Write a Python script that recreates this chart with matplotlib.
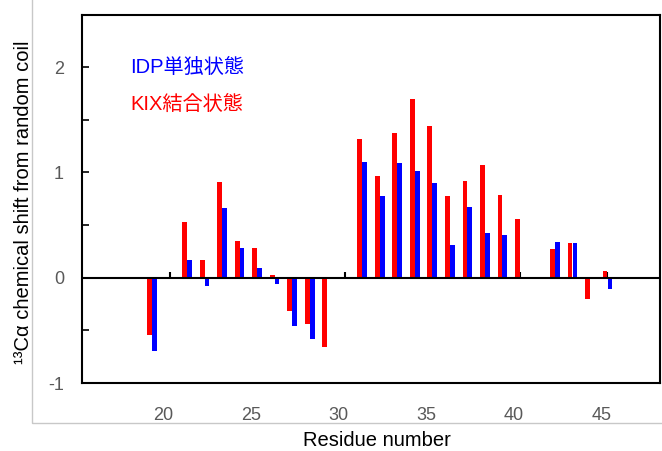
import numpy as np
import matplotlib
matplotlib.use("Agg")
import matplotlib.pyplot as plt
from matplotlib.patches import Rectangle
from matplotlib.transforms import ScaledTranslation

plt.rcParams['font.family'] = ['Liberation Sans', 'Noto Sans CJK JP', 'DejaVu Sans']

# ==== data ====
residues = np.arange(19, 46)
nan = np.nan
# KIX-bound state (red)
kix_bound = [-0.54, nan, 0.53, 0.17, 0.91, 0.35, 0.28, 0.03, -0.32, -0.44, -0.66, nan,
             1.32, 0.97, 1.37, 1.70, 1.44, 0.78, 0.92, 1.07, 0.79, 0.56, nan,
             0.27, 0.33, -0.20, 0.06]
# IDP alone (blue)
idp_alone = [-0.70, nan, 0.17, -0.08, 0.66, 0.28, 0.09, -0.06, -0.46, -0.58, nan, nan,
             1.10, 0.78, 1.09, 1.01, 0.90, 0.31, 0.67, 0.42, 0.41, nan, nan,
             0.34, 0.33, nan, -0.11]
xticks = [20, 25, 30, 35, 40, 45]
yticks = [-1, 0, 1, 2]

fig = plt.figure(figsize=(6.62, 4.51), dpi=100)
ax = fig.add_axes([82/662, 1-383/451, 578/662, 368.5/451])

# gray chart-area frame behind the plot
frame = Rectangle((32/662, 1-423/451), 1.0, 1.0, transform=fig.transFigure,
                  fill=False, edgecolor='#c8c8c8', linewidth=1.0, zorder=-1)
fig.patches.append(frame)

w = 0.27
ax.bar(residues - 0.14, kix_bound, width=w, color='#ff0000', zorder=2)
ax.bar(residues + 0.14, idp_alone, width=w, color='#0000ff', zorder=2)
ax.axhline(0, color='black', linewidth=1.5, zorder=3)

ax.set_xlim(15, 48)
ax.set_ylim(-1, 2.5)

for s in ax.spines.values():
    s.set_linewidth(1.5)
    s.set_color('black')

ax.set_yticks(np.arange(-1, 2.51, 0.5), minor=True)
ax.set_yticks(yticks)
ax.set_yticklabels([str(v) for v in yticks])
ax.tick_params(axis='y', which='both', direction='in', length=5, width=1.2,
               labelsize=13, labelcolor='#595959', pad=13)

ax.set_xticks(xticks)
ax.set_xticklabels([str(v) for v in xticks])
ax.tick_params(axis='x', length=0, labelsize=13, labelcolor='#595959', pad=17)
# labels sit a little left of their ticks in the reference
shift = ScaledTranslation(-6/100, 0, fig.dpi_scale_trans)
for lab in ax.get_xticklabels():
    lab.set_transform(lab.get_transform() + shift)

# small tick marks sitting on the zero line
sec = ax.secondary_xaxis(1/3.5)
sec.set_xticks(xticks)
sec.set_xticklabels([])
sec.tick_params(direction='in', length=4, width=1.5, color='black')
sec.spines['bottom'].set_visible(False)

ax.set_xlabel('Residue number', fontsize=14.5)
ax.xaxis.set_label_coords(0.51, -0.13)
ax.set_ylabel('¹³Cα chemical shift from random coil', fontsize=14.5)
ax.yaxis.set_label_coords(-0.085, 0.49)

ax.text(17.75, 2.0, 'IDP単独状態', color='#0000ff', fontsize=14.5, va='center')
ax.text(17.75, 1.65, 'KIX結合状態', color='#ff0000', fontsize=14.5, va='center')

fig.savefig('out.png', dpi=100)
